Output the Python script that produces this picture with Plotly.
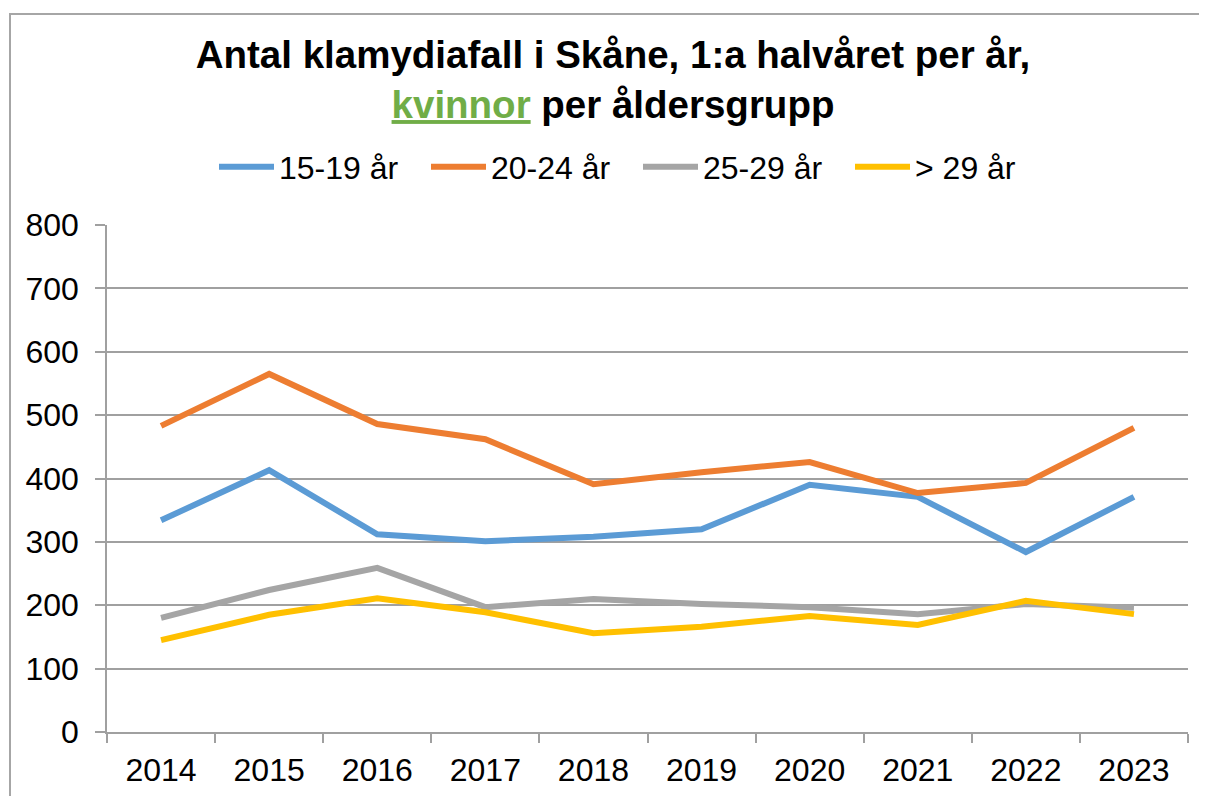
import plotly.graph_objects as go

years = ["2014", "2015", "2016", "2017", "2018", "2019", "2020", "2021", "2022", "2023"]
s15_19 = [334, 413, 312, 301, 308, 320, 390, 371, 284, 371]
s20_24 = [483, 565, 486, 462, 391, 410, 426, 377, 393, 480]
s25_29 = [180, 224, 259, 197, 210, 202, 197, 186, 202, 196]
s29p = [145, 185, 211, 189, 156, 166, 183, 169, 207, 186]

series = [
    ("15-19 år", s15_19, "#5B9BD5"),
    ("20-24 år", s20_24, "#ED7D31"),
    ("25-29 år", s25_29, "#A5A5A5"),
    ("> 29 år", s29p, "#FFC000"),
]

fig = go.Figure()
for name, vals, col in series:
    fig.add_trace(go.Scatter(x=years, y=vals, name=name, mode="lines",
                             line=dict(color=col, width=6)))

# page has an 8px body margin; figure coordinates = page coordinates - 8
OFF = 8
W, H = 1207 - OFF, 796 - OFF
L, R, T, B = 107 - OFF, 19, 225 - OFF, 64
pw, ph = W - L - R, H - T - B

def px2paper_x(x):  # x in page pixels
    return (x - OFF - L) / pw

def px2paper_y(y):  # y in page pixels
    return (H - B - (y - OFF)) / ph

fig.update_layout(
    width=W, height=H,
    margin=dict(l=L, r=R, t=T, b=B, autoexpand=False),
    paper_bgcolor="white", plot_bgcolor="white",
    font=dict(family="Liberation Sans, Arial, sans-serif", size=32, color="black"),
    title=dict(
        text="<b>Antal klamydiafall i Skåne, 1:a halvåret per år,<br>"
             "<span style='color:#70AD47'><u>kvinnor</u></span> per åldersgrupp</b>",
        x=(613 - OFF) / W, xanchor="center", xref="container",
        y=1 - 60 / H, yanchor="top", yref="container",
        font=dict(size=38.5, color="black"),
    ),
    legend=dict(
        orientation="h", x=px2paper_x(214), xanchor="left",
        y=px2paper_y(167), yanchor="middle",
        font=dict(size=32), itemwidth=55,
        entrywidth=142, entrywidthmode="pixels",
        bgcolor="rgba(0,0,0,0)",
    ),
    showlegend=True,
)

fig.update_xaxes(
    type="category", tickson="boundaries", ticks="outside", ticklen=9,
    range=[-0.5, 9.5],
    tickcolor="#A0A0A0", tickwidth=1.5,
    showline=True, linecolor="#A0A0A0", linewidth=1.5,
    showgrid=False, ticklabelstandoff=9,
    tickfont=dict(size=32),
)
fig.update_yaxes(
    range=[0, 800], dtick=100, ticks="outside", ticklen=10,
    tickcolor="#A0A0A0", tickwidth=1.5,
    showline=True, linecolor="#A0A0A0", linewidth=1.5,
    showgrid=True, gridcolor="#A0A0A0", gridwidth=1.5,
    zeroline=False, ticklabelstandoff=10,
    tickfont=dict(size=32),
)

fig.add_shape(type="rect", xref="paper", yref="paper",
              x0=px2paper_x(10), x1=px2paper_x(1225),
              y0=px2paper_y(820), y1=px2paper_y(14),
              line=dict(color="#A6A6A6", width=2), layer="below")

fig.write_html("out.html")
